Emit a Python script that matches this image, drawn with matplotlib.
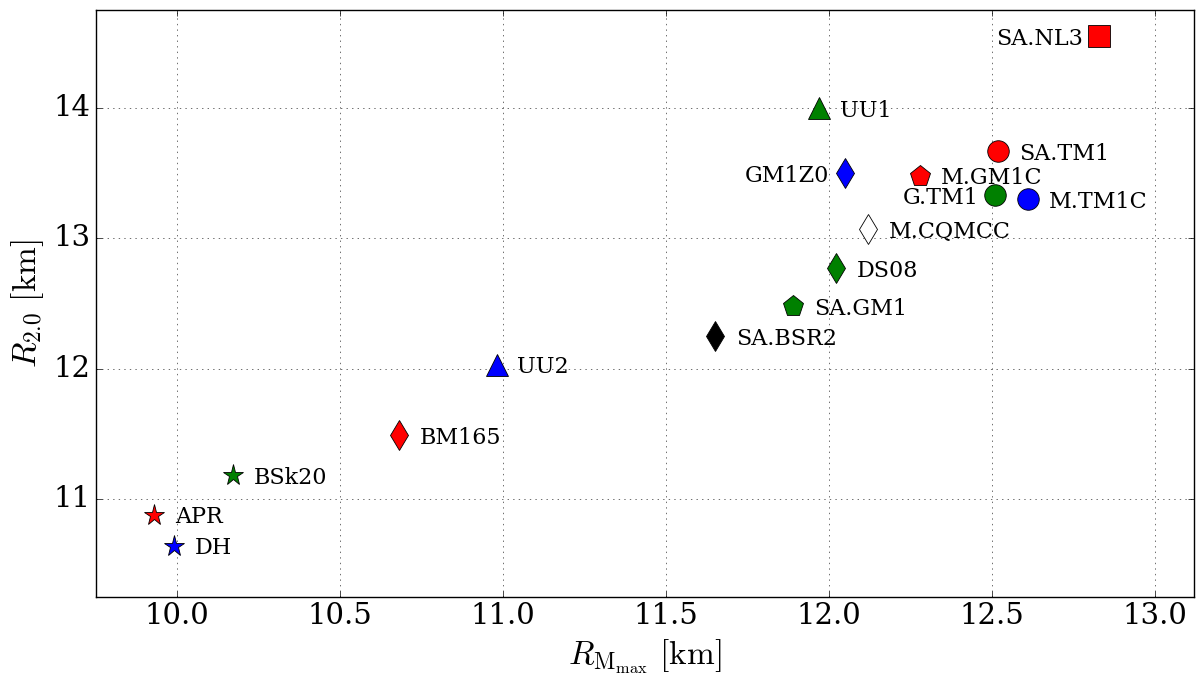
import matplotlib
matplotlib.use("Agg")
import matplotlib.pyplot as plt

# ---- data ----
eos_names = ["SA.NL3", "UU1", "SA.TM1", "GM1Z0", "M.GM1C", "G.TM1", "M.TM1C",
             "M.CQMCC", "DS08", "SA.GM1", "SA.BSR2", "UU2", "BM165", "BSk20",
             "APR", "DH"]
r_mmax = [12.83, 11.97, 12.52, 12.05, 12.28, 12.51, 12.61,
          12.12, 12.02, 11.89, 11.65, 10.98, 10.68, 10.17,
          9.93, 9.99]
r_20 = [14.55, 14.00, 13.67, 13.50, 13.48, 13.33, 13.30,
        13.07, 12.77, 12.48, 12.25, 12.03, 11.49, 11.18,
        10.88, 10.64]
x_ticks = [10.0, 10.5, 11.0, 11.5, 12.0, 12.5, 13.0]
y_ticks = [11, 12, 13, 14]

# ---- styles ----
markers = ["s", "^", "o", "d", "p", "o", "o",
           "d", "d", "p", "d", "^", "d", "*",
           "*", "*"]
colors = ["r", "g", "r", "b", "r", "g", "b",
          "w", "g", "g", "k", "b", "r", "g",
          "r", "b"]
left_side = {"SA.NL3", "GM1Z0", "G.TM1"}

plt.style.use("classic")
plt.rcParams["font.family"] = ["DejaVu Serif"]
plt.rcParams["mathtext.fontset"] = "cm"

fig = plt.figure(figsize=(12, 6.85), dpi=100, facecolor="white")
ax = fig.add_axes([0.0798, 0.129, 0.9152, 0.856])
ax.set_facecolor("white")

for name, xv, yv, m, c in zip(eos_names, r_mmax, r_20, markers, colors):
    ax.plot([xv], [yv], linestyle="none", marker=m, color=c,
            markerfacecolor=c, markeredgecolor="k", markeredgewidth=0.6,
            markersize=15.5, zorder=3)
    if name in left_side:
        ax.annotate(name, (xv, yv), xytext=(-12, 0), textcoords="offset points",
                    ha="right", va="center_baseline", fontsize=16)
    else:
        ax.annotate(name, (xv, yv), xytext=(15, 0), textcoords="offset points",
                    ha="left", va="center_baseline", fontsize=16)

ax.set_xlim(9.75, 13.12)
ax.set_ylim(10.25, 14.75)
ax.set_xticks(x_ticks)
ax.set_xticklabels(["%.1f" % t for t in x_ticks])
ax.set_yticks(y_ticks)
ax.set_yticklabels([str(t) for t in y_ticks])
ax.tick_params(labelsize=21)
ax.grid(True, color="k", linestyle=":", linewidth=0.5, alpha=0.8)
ax.set_axisbelow(True)

ax.set_xlabel(r"$R_{\mathrm{M}_{\mathrm{max}}}\ [\mathrm{km}]$", fontsize=24)
ax.set_ylabel(r"$R_{2.0}\ [\mathrm{km}]$", fontsize=24)

fig.savefig("out.png", dpi=100, facecolor="white")
